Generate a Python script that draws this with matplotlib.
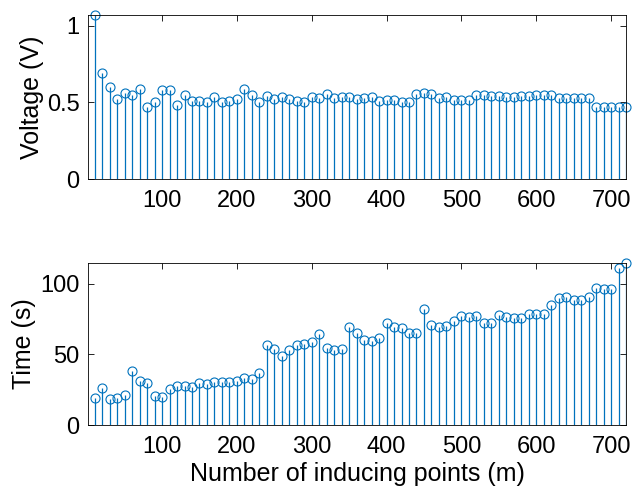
import matplotlib
matplotlib.use("Agg")
import matplotlib.pyplot as plt
import numpy as np

plt.rcParams['font.family'] = ['Liberation Sans', 'DejaVu Sans']

# number of inducing points
m = np.arange(10, 721, 10)

voltage = [1.07, 0.69, 0.60, 0.52, 0.56, 0.55, 0.585, 0.47, 0.50, 0.58,
           0.58, 0.48, 0.55, 0.51, 0.51, 0.50, 0.535, 0.50, 0.51, 0.52,
           0.59, 0.55, 0.50, 0.54, 0.52, 0.535, 0.525, 0.51, 0.50, 0.533,
           0.528, 0.557, 0.528, 0.537, 0.537, 0.524, 0.528, 0.533, 0.511, 0.516,
           0.516, 0.503, 0.503, 0.557, 0.56, 0.557, 0.528, 0.533, 0.516, 0.516,
           0.516, 0.546, 0.546, 0.543, 0.54, 0.538, 0.538, 0.54, 0.541, 0.546,
           0.546, 0.55, 0.528, 0.527, 0.527, 0.528, 0.528, 0.467, 0.467, 0.467,
           0.467, 0.47]

runtime = [18.8, 26.3, 18.1, 19.3, 21.6, 38.1, 31.3, 29.6, 20.7, 20.0,
           25.6, 27.5, 27.8, 27.1, 29.9, 29.4, 30.3, 30.6, 30.3, 31.1,
           33.4, 32.7, 36.7, 56.7, 54.1, 48.9, 53.4, 56.5, 57.2, 58.8,
           64.2, 54.6, 52.9, 54.1, 69.2, 65.2, 60.0, 59.3, 61.9, 72.5,
           69.6, 68.7, 65.4, 65.4, 81.9, 71.1, 69.6, 70.3, 73.9, 76.9,
           76.2, 77.2, 72.2, 72.2, 78.1, 76.2, 75.5, 75.5, 79.0, 79.0,
           79.0, 85.2, 89.9, 91.0, 88.9, 88.9, 90.5, 96.9, 96.4, 96.4,
           111.3, 114.8]

blue = '#0072BD'

fig = plt.figure(figsize=(6.38, 4.96), dpi=100)
ax1 = fig.add_axes([88 / 638, 1 - 179 / 496, 538 / 638, 164 / 496])
ax2 = fig.add_axes([88 / 638, 1 - 425 / 496, 538 / 638, 162 / 496])


def stemPlot(ax, x, y):
    ax.vlines(x, 0, y, color=blue, linewidth=0.9)
    ax.plot(x, y, 'o', markersize=6.5, markerfacecolor='none',
            markeredgecolor=blue, markeredgewidth=0.8, clip_on=False)
    ax.set_xlim(1, 720)
    ax.set_ylim(0, max(y))
    ax.set_xticks(range(100, 701, 100))
    ax.tick_params(direction='in', top=True, right=True, length=4,
                   width=0.6, labelsize=17)
    ax.tick_params(axis='x', pad=8)
    ax.tick_params(axis='y', pad=6)
    for s in ax.spines.values():
        s.set_linewidth(0.6)


stemPlot(ax1, m, voltage)
ax1.set_yticks([0, 0.5, 1])
ax1.set_yticklabels(['0', '0.5', '1'])
ax1.set_ylabel('Voltage (V)', fontsize=18, labelpad=2)

stemPlot(ax2, m, runtime)
ax2.set_yticks([0, 50, 100])
ax2.set_ylabel('Time (s)', fontsize=18, labelpad=3)
ax2.set_xlabel('Number of inducing points (m)', fontsize=18, labelpad=3)

fig.savefig('out.png', dpi=100)
